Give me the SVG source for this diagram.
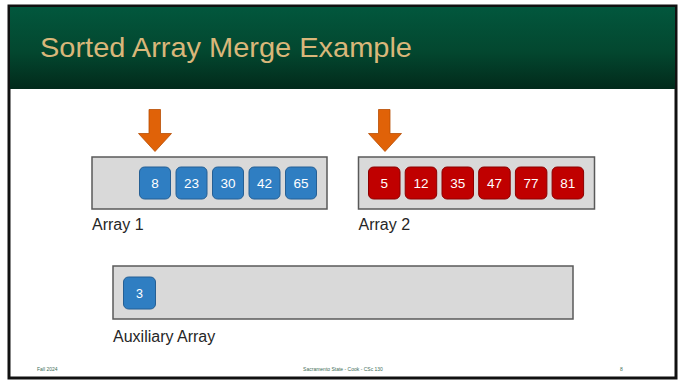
<svg xmlns="http://www.w3.org/2000/svg" width="686" height="381" viewBox="0 0 686 381">
<defs>
<linearGradient id="hdr" x1="0" y1="0" x2="0" y2="1">
<stop offset="0" stop-color="#02573d"/>
<stop offset="0.55" stop-color="#03472f"/>
<stop offset="1" stop-color="#022a1b"/>
</linearGradient>
</defs>
<style>
text{font-family:"Liberation Sans",Arial,sans-serif}
.box{fill:#d9d9d9;stroke:#595959;stroke-width:1.5}
.blue{fill:#2f7ec2;stroke:#255f94;stroke-width:1}
.red{fill:#c00000;stroke:#8c0000;stroke-width:1}
.num{fill:#fff;font-size:13.5px;text-anchor:middle}
.lbl{fill:#262626;font-size:16px}
.arrow{fill:#e06208;stroke:#b84e04;stroke-width:0.8}
.foot{fill:#3e6e57;font-size:5px}
</style>
<rect x="0" y="0" width="686" height="381" fill="#fff"/>
<g id="frame">
<rect x="9" y="6" width="667" height="372" fill="#fff" stroke="#111" stroke-width="3"/>
<rect x="10" y="7" width="665" height="82" fill="url(#hdr)"/>
<text x="40" y="57" font-size="28" fill="#d9b77a" textLength="372" lengthAdjust="spacingAndGlyphs">Sorted Array Merge Example</text>
</g>
<g id="array1">
<rect class="box" x="92" y="157" width="235" height="52"/>
<rect class="blue" x="139.5" y="167" width="31" height="32" rx="5"/>
<text class="num" x="155" y="188">8</text>
<rect class="blue" x="176" y="167" width="31" height="32" rx="5"/>
<text class="num" x="191.5" y="188">23</text>
<rect class="blue" x="212.5" y="167" width="31" height="32" rx="5"/>
<text class="num" x="228" y="188">30</text>
<rect class="blue" x="249" y="167" width="31" height="32" rx="5"/>
<text class="num" x="264.5" y="188">42</text>
<rect class="blue" x="285.5" y="167" width="31" height="32" rx="5"/>
<text class="num" x="301" y="188">65</text>
<text class="lbl" x="92" y="230">Array 1</text>
</g>
<g id="array2">
<rect class="box" x="358.5" y="157" width="236" height="52"/>
<rect class="red" x="368.5" y="167" width="31.5" height="32" rx="5"/>
<text class="num" x="384.2" y="188">5</text>
<rect class="red" x="405.2" y="167" width="31.5" height="32" rx="5"/>
<text class="num" x="421" y="188">12</text>
<rect class="red" x="442" y="167" width="31.5" height="32" rx="5"/>
<text class="num" x="457.7" y="188">35</text>
<rect class="red" x="478.7" y="167" width="31.5" height="32" rx="5"/>
<text class="num" x="494.4" y="188">47</text>
<rect class="red" x="515.4" y="167" width="31.5" height="32" rx="5"/>
<text class="num" x="531.1" y="188">77</text>
<rect class="red" x="552.1" y="167" width="31.5" height="32" rx="5"/>
<text class="num" x="567.8" y="188">81</text>
<text class="lbl" x="358.5" y="230">Array 2</text>
</g>
<g id="aux">
<rect class="box" x="113" y="266" width="460" height="53"/>
<rect class="blue" x="123.5" y="277" width="32" height="32" rx="5"/>
<text class="num" x="139.5" y="298" style="font-size:12.5px">3</text>
<text class="lbl" x="113" y="342">Auxiliary Array</text>
</g>
<g id="connectors">
<polygon class="arrow" points="149,109.5 160.5,109.5 160.5,133.5 171.5,133.5 155,151.5 138.5,133.5 149,133.5"/>
<polygon class="arrow" points="378.5,109.5 390,109.5 390,133.5 401.5,133.5 385,151.5 368.5,133.5 378.5,133.5"/>
</g>
<g id="footer">
<text class="foot" x="37" y="371">Fall 2024</text>
<text class="foot" x="343" y="371" text-anchor="middle">Sacramento  State  -  Cook  -  CSc 130</text>
<text class="foot" x="620" y="371">8</text>
</g>
</svg>
